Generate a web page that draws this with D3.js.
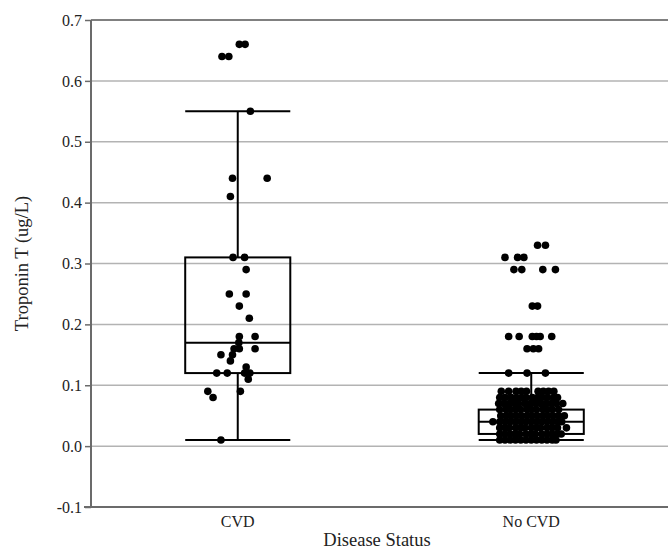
<!DOCTYPE html>
<html lang="en">
<head>
<meta charset="UTF-8">
<title>Troponin T by Disease Status</title>
<script src="https://d3js.org/d3.v7.min.js"></script>
<style>
  body { margin: 0; background: #fff; }
  svg { display: block; font-family: "Liberation Serif", "DejaVu Serif", serif; }
  .grid line { stroke: #b3b3b3; stroke-width: 1.5px; }
  .box rect, .box line { stroke: #000; stroke-width: 2px; fill: none; }
  .dot { fill: #000; }
</style>
</head>
<body>
<div id="chart"></div>
<script>
// ---- data ----
const groups = ["CVD", "No CVD"];
const yTicks = [-0.1, 0.0, 0.1, 0.2, 0.3, 0.4, 0.5, 0.6, 0.7];

// box stats per group: lower whisker, q1, median, q3, upper whisker
const whiskerLow  = [0.01, 0.01];
const q1          = [0.12, 0.02];
const median      = [0.17, 0.04];
const q3          = [0.31, 0.06];
const whiskerHigh = [0.55, 0.12];

// individual points (value, horizontal jitter in half-box units of 50)
const cvdValues = [0.66, 0.66, 0.64, 0.64, 0.55, 0.44, 0.44, 0.41, 0.31, 0.31,
                   0.29, 0.25, 0.25, 0.23, 0.21, 0.18, 0.18, 0.17, 0.16, 0.16,
                   0.16, 0.15, 0.15, 0.14, 0.13, 0.12, 0.12, 0.12, 0.12, 0.11,
                   0.09, 0.09, 0.08, 0.01];
const cvdJitter = [1.5, 7, -15, -8.5, 12, -5, 28, -7, -4.5, 6.5,
                   8, -8, 8, 1.5, 11, 1.5, 16.5, 1, 1.5, -3.5,
                   16.5, -16, -5, -7, 8, -20, -10, 6.5, 11.5, 10,
                   2.5, -28.5, -23.5, -16];

// No CVD points, listed by value level
const noCvdLevels = [0.33, 0.31, 0.29, 0.23, 0.18, 0.16, 0.12, 0.09, 0.08, 0.07,
                     0.06, 0.05, 0.04, 0.03, 0.02, 0.01];
const noCvdJitter = [
  [6, 13.5],
  [-25, -13, -7],
  [-16.5, -9, 11, 23],
  [1, 6],
  [-21.5, -11.5, 1, 5, 8.5, 19.5],
  [-4, 2, 7],
  [-21.5, -4, 13.5],
  [-28.5, -21.5, -14.5, -9.5, -4.5, 6.5, 11.5, 16.5, 21.5],
  [-30, -25, -19, -14, -9, -5, 1, 6, 10, 15, 21, 25],
  [-31, -26, -21, -16, -12, -6, -1, 4, 9, 14, 19, 24, 30],
  [-30, -24, -20, -15, -10, -4, 0, 5, 11, 15, 20, 26],
  [-29, -24, -19, -14, -9, -4, 1, 6, 11, 16, 21, 26, 31.5],
  [-36.5, -30, -25, -20, -15, -10, -5, 0, 5, 10, 15, 20, 25, 29],
  [-30, -25, -21, -15, -10, -6, 0, 5, 9, 15, 20, 25, 33.5],
  [-30, -25, -20, -15, -11, -5, 0, 4, 10, 15, 20, 25, 28.5],
  [-30, -25, -20, -15, -10, -5, 0, 5, 10, 15, 20, 23.5]
];

// ---- layout ----
const W = 668, H = 550;
const margin = {top: 20, right: -10, bottom: 43, left: 91};
const serif = "Liberation Serif, DejaVu Serif, serif";

const svg = d3.select("#chart").append("svg")
  .attr("width", W).attr("height", H);

const x = d3.scaleBand()
  .domain(groups)
  .range([margin.left, W - margin.right])
  .paddingInner(0).paddingOuter(0);

const y = d3.scaleLinear()
  .domain([-0.1, 0.7])
  .range([H - margin.bottom, margin.top]);

const boxW = x.bandwidth() * 0.358;
const jit = d3.scaleLinear().domain([-50, 50]).range([-boxW / 2, boxW / 2]);
const cx = g => x(g) + x.bandwidth() / 2;

// gridlines
svg.append("g").attr("class", "grid")
  .selectAll("line")
  .data(yTicks.filter(t => t > -0.1))
  .join("line")
  .attr("x1", margin.left).attr("x2", W - margin.right)
  .attr("y1", d => y(d)).attr("y2", d => y(d))
  .style("stroke", d => d === 0.7 ? "#808080" : null)
  .style("stroke-width", d => d === 0.7 ? "2px" : null);

// y axis
const fmt = d3.format(".1f");
const yAxis = svg.append("g")
  .attr("transform", `translate(${margin.left},0)`)
  .call(d3.axisLeft(y).tickValues(yTicks)
    .tickFormat(d => fmt(d).replace("\u2212", "-"))
    .tickSize(6).tickPadding(3))
  .attr("font-family", serif).attr("font-size", 16);
yAxis.select(".domain").attr("stroke", "#6b6b6b").attr("stroke-width", 2)
  .attr("d", `M0,${y(0.7)}V${y(-0.1)}`);
yAxis.selectAll(".tick line").attr("stroke", "#6b6b6b").attr("stroke-width", 1.5);
yAxis.selectAll(".tick text").attr("fill", "#222");

// x axis
const xAxis = svg.append("g")
  .attr("transform", `translate(0,${y(-0.1)})`)
  .call(d3.axisBottom(x).tickSize(0).tickPadding(9))
  .attr("font-family", serif).attr("font-size", 16);
xAxis.select(".domain").attr("stroke", "#6b6b6b").attr("stroke-width", 2)
  .attr("d", `M${margin.left - 7},0H${W - margin.right}`);
xAxis.selectAll(".tick text").attr("fill", "#222");

// axis titles
svg.append("text")
  .attr("x", 377).attr("y", 546)
  .attr("text-anchor", "middle").attr("fill", "#222")
  .style("font-size", "18.5px")
  .text("Disease Status");

svg.append("text")
  .attr("transform", `translate(28,${y(0.3)}) rotate(-90)`)
  .attr("text-anchor", "middle").attr("fill", "#222")
  .style("font-size", "18.5px")
  .text("Troponin T (ug/L)");

// boxes
const boxData = groups.map((g, i) => ({
  g, lo: whiskerLow[i], q1: q1[i], med: median[i], q3: q3[i], hi: whiskerHigh[i]
}));

const box = svg.append("g").attr("class", "box")
  .selectAll("g").data(boxData).join("g");

box.append("line")
  .attr("x1", d => cx(d.g)).attr("x2", d => cx(d.g))
  .attr("y1", d => y(d.q3)).attr("y2", d => y(d.hi));
box.append("line")
  .attr("x1", d => cx(d.g)).attr("x2", d => cx(d.g))
  .attr("y1", d => y(d.q1)).attr("y2", d => y(d.lo));
box.append("rect")
  .attr("x", d => cx(d.g) - boxW / 2).attr("width", boxW)
  .attr("y", d => y(d.q3)).attr("height", d => y(d.q1) - y(d.q3));
["lo", "med", "hi"].forEach(k => {
  box.append("line")
    .attr("x1", d => cx(d.g) - boxW / 2).attr("x2", d => cx(d.g) + boxW / 2)
    .attr("y1", d => y(d[k])).attr("y2", d => y(d[k]));
});

// points
const pts = cvdValues.map((v, i) => ({g: "CVD", v, j: cvdJitter[i]}));
noCvdLevels.forEach((v, i) => {
  noCvdJitter[i].forEach(j => pts.push({g: "No CVD", v, j}));
});

svg.append("g").selectAll("circle")
  .data(pts).join("circle")
  .attr("class", "dot")
  .attr("cx", d => cx(d.g) + jit(d.j))
  .attr("cy", d => y(d.v))
  .attr("r", 3.8);
</script>
</body>
</html>
